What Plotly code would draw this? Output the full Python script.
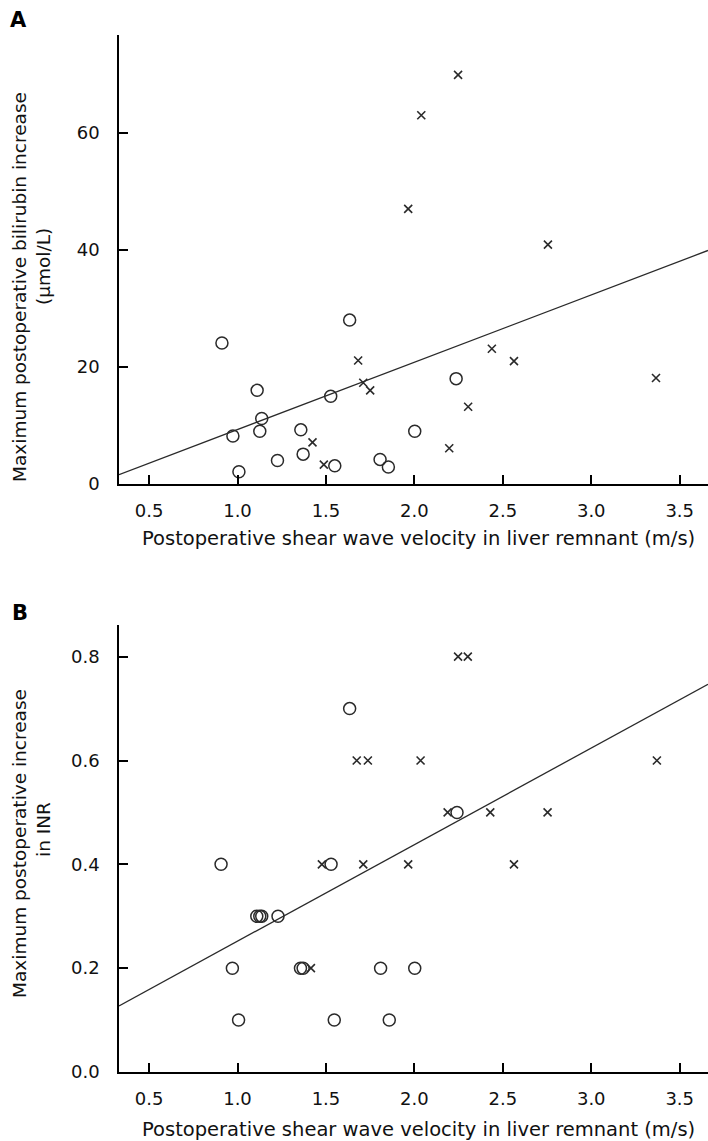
import plotly.graph_objects as go

# ---- data ----
# Panel A: bilirubin increase vs shear wave velocity
a_circ_x = [0.912, 1.634, 1.111, 1.527, 1.137, 0.974, 1.126, 1.358, 1.371, 1.226, 1.008, 1.550, 1.806, 1.853, 2.002, 2.236]
a_circ_y = [24.1, 28.0, 16.0, 15.0, 11.2, 8.2, 9.0, 9.25, 5.1, 4.0, 2.1, 3.1, 4.2, 2.9, 9.0, 18.0]
a_cross_x = [2.247, 2.039, 1.965, 2.755, 1.682, 2.438, 2.563, 3.366, 1.711, 1.750, 2.304, 1.424, 2.197, 1.488]
a_cross_y = [69.9, 63.0, 47.0, 40.9, 21.1, 23.1, 21.0, 18.1, 17.3, 16.0, 13.2, 7.1, 6.1, 3.3]
a_fit = (-2.2, 11.5)  # intercept, slope

# Panel B: INR increase vs shear wave velocity
b_circ_x = [0.907, 1.634, 1.109, 1.529, 1.137, 0.971, 1.126, 1.356, 1.371, 1.229, 1.006, 1.547, 1.809, 1.858, 2.002, 2.241]
b_circ_y = [0.4, 0.7, 0.3, 0.4, 0.3, 0.2, 0.3, 0.2, 0.2, 0.3, 0.1, 0.1, 0.2, 0.1, 0.2, 0.5]
b_cross_x = [2.247, 2.035, 1.965, 2.753, 1.674, 2.429, 2.563, 3.371, 1.711, 1.737, 2.302, 1.415, 2.188, 1.477]
b_cross_y = [0.8, 0.6, 0.4, 0.5, 0.6, 0.5, 0.4, 0.6, 0.4, 0.6, 0.8, 0.2, 0.5, 0.4]
b_fit = (0.066, 0.186)

x_ticks = [0.5, 1.0, 1.5, 2.0, 2.5, 3.0, 3.5]
x_tick_text = ["0.5", "1.0", "1.5", "2.0", "2.5", "3.0", "3.5"]
a_y_ticks = [0, 20, 40, 60]
b_y_ticks = [0.0, 0.2, 0.4, 0.6, 0.8]
b_y_tick_text = ["0.0", "0.2", "0.4", "0.6", "0.8"]

x_title = "Postoperative shear wave velocity in liver remnant (m/s)"
a_y_title = ["Maximum postoperative bilirubin increase", "(μmol/L)"]
b_y_title = ["Maximum postoperative increase", "in INR"]

# ---- layout geometry ----
W, H = 708, 1141
L, R, T, B = 119, 0, 35, 69
PW, PH = W - L - R, H - T - B
XR = [0.33, 3.66]
a_yr = [0, 76.7]
b_yr = [0, 0.861]


def px(xpix):
    return (xpix - L) / PW


def py(ypix):
    return (H - B - ypix) / PH


FONT = "DejaVu Sans"
INK = "#111111"
MARK = "#2a2a2a"

fig = go.Figure()

circ_marker = dict(symbol="circle-open", size=12, color=MARK, line=dict(width=1.5, color=MARK))
cross_marker = dict(symbol="x-thin-open", size=8, color=MARK, line=dict(width=1.6, color=MARK))

for (cx, cy, xx, xy, fit, xa, ya) in [
    (a_circ_x, a_circ_y, a_cross_x, a_cross_y, a_fit, "x", "y"),
    (b_circ_x, b_circ_y, b_cross_x, b_cross_y, b_fit, "x2", "y2"),
]:
    lx = [XR[0], XR[1]]
    ly = [fit[0] + fit[1] * v for v in lx]
    fig.add_trace(go.Scatter(x=lx, y=ly, mode="lines", line=dict(color="#2a2a2a", width=1.3),
                             xaxis=xa, yaxis=ya, showlegend=False, hoverinfo="skip"))
    fig.add_trace(go.Scatter(x=cx, y=cy, mode="markers", marker=circ_marker,
                             xaxis=xa, yaxis=ya, showlegend=False))
    fig.add_trace(go.Scatter(x=xx, y=xy, mode="markers", marker=cross_marker,
                             xaxis=xa, yaxis=ya, showlegend=False))

axis_common = dict(showline=True, linecolor="black", linewidth=1.5, ticks="inside", ticklen=9,
                   tickwidth=1.5, tickcolor="black", showgrid=False, zeroline=False,
                   tickfont=dict(family=FONT, size=18, color=INK), mirror=False)

a_bottom = py(484)
b_top = py(625)

fig.update_layout(
    width=W, height=H,
    margin=dict(l=L, r=R, t=T, b=B),
    plot_bgcolor="white", paper_bgcolor="white",
    xaxis=dict(domain=[0, 1], range=XR, anchor="y", tickvals=x_ticks, ticktext=x_tick_text,
               ticklabelstandoff=10, **axis_common),
    yaxis=dict(domain=[a_bottom, 1], range=a_yr, anchor="x", tickvals=a_y_ticks,
               ticklabelstandoff=14, **axis_common),
    xaxis2=dict(domain=[0, 1], range=XR, anchor="y2", tickvals=x_ticks, ticktext=x_tick_text,
                ticklabelstandoff=10, **axis_common),
    yaxis2=dict(domain=[0, b_top], range=b_yr, anchor="x2", tickvals=b_y_ticks, ticktext=b_y_tick_text,
                ticklabelstandoff=14, **axis_common),
)

ann = []
# panel letters
ann.append(dict(text="<b>A</b>", x=px(18), y=py(20), font=dict(family=FONT, size=21, color="black")))
ann.append(dict(text="<b>B</b>", x=px(20), y=py(613), font=dict(family=FONT, size=21, color="black")))
# x titles
ann.append(dict(text=x_title, x=px(418), y=py(538), font=dict(family=FONT, size=19.5, color=INK)))
ann.append(dict(text=x_title, x=px(418), y=py(1129), font=dict(family=FONT, size=19.5, color=INK)))
# y titles (each line placed separately)
YT = 18.5
ann.append(dict(text=a_y_title[0], x=px(19), y=py(287), textangle=-90, font=dict(family=FONT, size=YT, color=INK)))
ann.append(dict(text=a_y_title[1], x=px(43), y=py(267), textangle=-90, font=dict(family=FONT, size=YT, color=INK)))
ann.append(dict(text=b_y_title[0], x=px(19), y=py(844), textangle=-90, font=dict(family=FONT, size=YT, color=INK)))
ann.append(dict(text=b_y_title[1], x=px(43), y=py(830), textangle=-90, font=dict(family=FONT, size=YT, color=INK)))

for a in ann:
    a.update(xref="paper", yref="paper", showarrow=False, xanchor="center", yanchor="middle")
    fig.add_annotation(**a)

fig.write_html("out.html")
